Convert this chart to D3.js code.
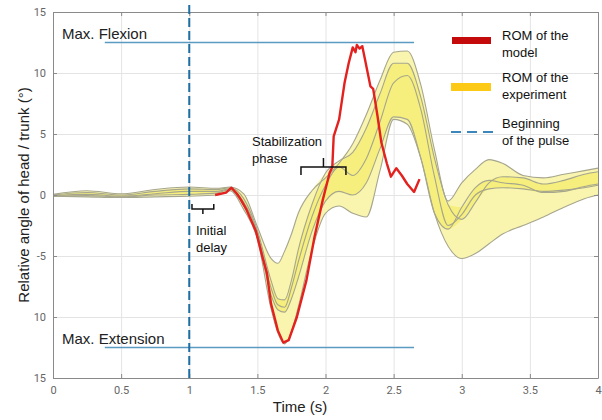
<!DOCTYPE html>
<html>
<head>
<meta charset="utf-8">
<script src="https://cdn.jsdelivr.net/npm/d3@7"></script>
<style>
  body { margin: 0; background: #fff; }
  svg { font-family: "Liberation Sans", Arial, sans-serif; }
  .tick text { font-family: Roboto, "Liberation Sans", sans-serif; font-size: 11px; fill: #666; }
</style>
</head>
<body>
<svg id="chart" width="602" height="420"></svg>
<script>
// time grid shared by the five experiment curves
const expTime = [0, 0.25, 0.5, 0.75, 1.0, 1.2, 1.3, 1.4, 1.5, 1.6, 1.65, 1.7, 1.75, 1.8, 1.9, 2.0, 2.1, 2.2, 2.3, 2.4, 2.5, 2.6, 2.7, 2.8, 2.9, 3.0, 3.1, 3.2, 3.3, 3.45, 3.6, 3.75, 3.9, 4.0];

const exp1 = [0.05, 0.35, 0.1, 0.45, 0.65, 0.55, 0.65, 0.1, -2.6, -5.2, -5.6, -4.6, -3.2, -1.5, 0.35, 1.4, 2.6, 4.2, 6.6, 9.4, 11.7, 11.8, 9.0, 3.7, -0.5, 1.0, 2.1, 2.9, 2.6, 1.6, 1.4, 1.7, 2.0, 2.2];
const exp2 = [0, 0.2, 0.0, 0.3, 0.5, 0.45, 0.6, -0.3, -2.9, -7.0, -8.5, -8.6, -7.0, -4.5, -0.8, 1.8, 2.8, 3.5, 5.5, 8.3, 10.8, 10.8, 8.0, 3.0, -0.8, -2.0, -0.6, 1.0, 1.5, 1.4, 0.9, 1.2, 1.7, 1.9];
const exp3 = [-0.05, 0.05, -0.1, 0.1, 0.3, 0.3, 0.5, -0.6, -3.1, -7.6, -9.0, -9.2, -7.6, -5.5, -1.8, 0.8, 2.3, 1.6, 3.0, 6.0, 9.2, 9.8, 7.0, 1.5, -2.5, -1.6, 0.0, 0.5, 0.6, 0.5, 0.3, 0.4, 0.6, 0.8];
const exp4 = [-0.1, -0.05, -0.15, 0.0, 0.05, 0.15, 0.45, -0.9, -3.3, -8.2, -9.4, -9.6, -8.5, -6.8, -3.0, -0.5, 0.3, 0.0, 1.0, 3.8, 6.4, 6.2, 3.0, -1.5, -2.8, -1.0, 0.6, 1.2, 1.0, 0.8, 0.2, 0.3, 0.7, 0.9];
const exp5 = [-0.1, -0.15, -0.2, -0.15, -0.1, 0.0, 0.35, -1.2, -3.6, -9.3, -11.3, -12.2, -11.2, -9.2, -4.5, -1.5, -0.9, -1.5, -1.8, 2.0, 6.2, 5.8, 3.0, -1.5, -4.2, -5.2, -4.8, -4.0, -3.2, -2.5, -1.8, -1.0, -0.3, 0.0];

// model curve
const modelTime = [1.19, 1.27, 1.31, 1.35, 1.38, 1.42, 1.49, 1.54, 1.57, 1.60, 1.65, 1.69, 1.73, 1.79, 1.86, 1.92, 1.98, 2.03, 2.05, 2.06, 2.10, 2.14, 2.17, 2.20, 2.22, 2.23, 2.25, 2.27, 2.29, 2.31, 2.33, 2.35, 2.38, 2.41, 2.45, 2.48, 2.52, 2.56, 2.60, 2.65, 2.69];
const modelAngle = [0, 0.2, 0.6, 0.1, -0.4, -1.2, -3.0, -5.2, -6.4, -8.9, -11.1, -12.1, -11.9, -10.0, -7.0, -3.4, -0.4, 1.8, 2.3, 4.8, 6.2, 9.2, 10.8, 12.1, 11.7, 12.3, 12.0, 12.2, 11.1, 10.0, 8.9, 8.7, 6.6, 4.3, 2.6, 1.5, 2.2, 1.6, 0.9, 0.25, 1.3];

const xTicks = [0, 0.5, 1, 1.5, 2, 2.5, 3, 3.5, 4];
const xTickLabels = ["0", "0.5", "1", "1.5", "2", "2.5", "3", "3.5", "4"];
const yTicks = [15, 10, 5, 0, -5, -10, -15];
const yTickLabels = ["15", "10", "5", "0", "-5", "10", "15"];

const pulseStart = 1;
const maxFlexion = 12.5;
const maxExtension = -12.5;
const limitSpan = [0.38, 2.65];

const svg = d3.select('#chart');
const mLeft = 53, mRight = 598, mTop = 12, mBottom = 378;

const x = d3.scaleLinear().domain([0, 4]).range([mLeft, mRight]);
const y = d3.scaleLinear().domain([-15, 15]).range([mBottom, mTop]);

// grid
svg.append('g')
  .attr('transform', `translate(0,${mBottom})`)
  .call(d3.axisBottom(x).tickValues(xTicks).tickSize(-(mBottom - mTop)).tickFormat(''))
  .call(g => g.select('.domain').remove())
  .selectAll('line').attr('stroke', '#e4e4e4');
svg.append('g')
  .attr('transform', `translate(${mLeft},0)`)
  .call(d3.axisLeft(y).tickValues(yTicks).tickSize(-(mRight - mLeft)).tickFormat(''))
  .call(g => g.select('.domain').remove())
  .selectAll('line').attr('stroke', '#e4e4e4');

// experiment band
const curves = [exp1, exp2, exp3, exp4, exp5];
const rows = expTime.map((t, i) => {
  const vals = curves.map(c => c[i]).sort((a, b) => b - a);
  return { t, hi: vals[0], hi2: vals[1], lo2: vals[3], lo: vals[4] };
});

const area = (a, b) => d3.area().curve(d3.curveMonotoneX)
  .x(d => x(d.t)).y0(d => y(d[b])).y1(d => y(d[a]));

svg.append('path').datum(rows).attr('d', area('hi', 'lo'))
  .attr('fill', '#f9f5ae');
svg.append('path').datum(rows).attr('d', area('hi2', 'lo2'))
  .attr('fill', '#f4ec6c').attr('opacity', 0.75);

const line = d3.line().curve(d3.curveMonotoneX)
  .x((d, i) => x(expTime[i])).y(d => y(d));
svg.selectAll('.exp').data(curves).join('path')
  .attr('class', 'exp')
  .attr('d', line)
  .attr('fill', 'none')
  .attr('stroke', '#a6a68e')
  .attr('stroke-width', 1.1);

// max flexion / extension
svg.selectAll('.limit').data([maxFlexion, maxExtension]).join('line')
  .attr('class', 'limit')
  .attr('x1', x(limitSpan[0])).attr('x2', x(limitSpan[1]))
  .attr('y1', d => y(d)).attr('y2', d => y(d))
  .attr('stroke', '#5b9bc2').attr('stroke-width', 1.6);

svg.append('text').attr('x', 62).attr('y', y(maxFlexion) - 4)
  .attr('font-size', 15).attr('fill', '#222').text('Max. Flexion');
svg.append('text').attr('x', 62).attr('y', y(maxExtension) - 4)
  .attr('font-size', 15).attr('fill', '#222').text('Max. Extension');

// model
const modelLine = d3.line().x((d, i) => x(modelTime[i])).y(d => y(d));
svg.append('path').datum(modelAngle).attr('d', modelLine)
  .attr('fill', 'none').attr('stroke', '#e3211e').attr('stroke-width', 2.4)
  .attr('stroke-linejoin', 'round');

// frame with inward ticks
const tickStyle = g => {
  g.select('.domain').attr('stroke', '#8a8a8a');
  g.selectAll('.tick line').attr('stroke', '#8a8a8a');
};
svg.append('g').attr('transform', `translate(0,${mBottom})`)
  .call(d3.axisBottom(x).tickValues(xTicks).tickSize(-4).tickPadding(8).tickSizeOuter(0)
    .tickFormat((d, i) => xTickLabels[i]))
  .call(tickStyle);
svg.append('g').attr('transform', `translate(0,${mTop})`)
  .call(d3.axisTop(x).tickValues(xTicks).tickSize(-4).tickSizeOuter(0).tickFormat(''))
  .call(tickStyle);
svg.append('g').attr('transform', `translate(${mLeft},0)`)
  .call(d3.axisLeft(y).tickValues(yTicks).tickSize(-4).tickPadding(7).tickSizeOuter(0)
    .tickFormat((d, i) => yTickLabels[i]))
  .call(tickStyle);
svg.append('g').attr('transform', `translate(${mRight},0)`)
  .call(d3.axisRight(y).tickValues(yTicks).tickSize(-4).tickSizeOuter(0).tickFormat(''))
  .call(tickStyle);

// pulse start
svg.append('line')
  .attr('x1', x(pulseStart)).attr('x2', x(pulseStart))
  .attr('y1', 5).attr('y2', mBottom + 4)
  .attr('stroke', '#1f6ea3').attr('stroke-width', 2)
  .attr('stroke-dasharray', '9,4');

// annotations
const bracket = svg.append('g').attr('fill', 'none').attr('stroke', '#111').attr('stroke-width', 1.5);
const bx0 = x(1.02), bx1 = x(1.18), by = y(-1.15);
bracket.append('path')
  .attr('d', `M${bx0},${by - 5}V${by}H${bx1}V${by - 5}M${(bx0 + bx1) / 2},${by}v5`);
const sx0 = x(1.82), sx1 = x(2.15), sy = y(2.3);
bracket.append('path')
  .attr('d', `M${sx0},${sy + 8}V${sy}H${sx1}V${sy + 8}M${(sx0 + sx1) / 2},${sy}v-9`);

const note = (tx, ty, lines) => svg.append('text')
  .attr('x', tx).attr('y', ty).attr('font-size', 13).attr('fill', '#111')
  .selectAll('tspan').data(lines).join('tspan')
  .attr('x', tx).attr('dy', (d, i) => i ? 17 : 0).text(d => d);
note(196, 235, ['Initial', 'delay']);
note(252, 146, ['Stabilization', 'phase']);

// legend
const legend = svg.append('g');
legend.append('rect').attr('x', 452).attr('y', 37).attr('width', 39).attr('height', 7).attr('fill', '#c40a0a');
legend.append('rect').attr('x', 451).attr('y', 83).attr('width', 40).attr('height', 8).attr('fill', '#fcca16');
legend.append('line').attr('x1', 451).attr('x2', 495).attr('y1', 132).attr('y2', 132)
  .attr('stroke', '#3a88bb').attr('stroke-width', 2).attr('stroke-dasharray', '10,6');
note(502, 40, ['ROM of the', 'model']);
note(502, 82, ['ROM of the', 'experiment']);
note(502, 128, ['Beginning', 'of the pulse']);

// axis titles
svg.append('text').attr('x', 300).attr('y', 412).attr('text-anchor', 'middle')
  .attr('font-size', 15).attr('fill', '#222').text('Time (s)');
svg.append('text').attr('transform', `translate(29,${(mTop + mBottom) / 2}) rotate(-90)`)
  .attr('text-anchor', 'middle').attr('font-size', 15).attr('fill', '#222')
  .text('Relative angle of head / trunk (°)');
</script>
</body>
</html>
